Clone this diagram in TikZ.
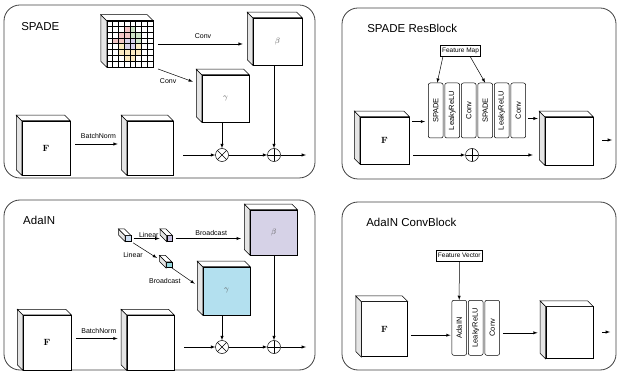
\documentclass[tikz,border=0pt]{standalone}
\usepackage{amsmath, amssymb}
\usepackage[no-math]{fontspec}
\setmainfont{Liberation Sans}
\usepackage{graphicx}
\usepackage{tikz}
\usetikzlibrary{arrows,positioning,calc}

\definecolor{cellred}{HTML}{F2C6C6}
\definecolor{cellgreen}{HTML}{CFE5C8}
\definecolor{cellpurple}{HTML}{D8D0EA}
\definecolor{cellyellow}{HTML}{FBEAC2}
\definecolor{betafill}{HTML}{D6D2E7}
\definecolor{gammafill}{HTML}{B3E0EF}
\definecolor{vecblue}{HTML}{CFDFF2}
\definecolor{vecpurple}{HTML}{C8C0E2}
\definecolor{veccyan}{HTML}{97D8DF}

% side and top faces of a cube node
\newcommand{\cubesides}[2][5.5]{%
  \draw[fill=black!10] (#2.north west) -- ++(-#1,-#1) -- ($(#2.south west)+(-#1,-#1)$) -- (#2.south west) -- cycle;
  \draw[fill=white] (#2.north west) -- ++(-#1,-#1) -- ($(#2.north east)+(-#1,-#1)$) -- (#2.north east) -- cycle;}

\begin{document}
\begin{tikzpicture}[x=1pt, y=-1pt, >=latex, line width=0.5pt,
  panel/.style={draw=black!75, line width=0.8pt, rounded corners=16pt},
  title/.style={anchor=west, inner sep=0pt, font=\fontsize{11.5}{13}\selectfont},
  cube/.style={draw, fill=white, inner sep=0pt, font=\fontsize{9}{10}\selectfont},
  param/.style={text=black!65, font=\fontsize{8}{9}\selectfont},
  lbl/.style={font=\fontsize{7}{8}\selectfont, inner sep=1pt},
  blk/.style={draw, rounded corners=2pt, minimum width=14.8pt, minimum height=55pt, inner sep=0pt, font=\fontsize{7.5}{8}\selectfont},
  tag/.style={draw, fill=white, minimum height=11pt, inner sep=1.5pt, font=\fontsize{6.5}{7}\selectfont},
  opx/.style={circle, draw, minimum size=13pt, inner sep=0pt,
    path picture={\draw (path picture bounding box.north west) -- (path picture bounding box.south east)
      (path picture bounding box.north east) -- (path picture bounding box.south west);}},
  opp/.style={circle, draw, minimum size=13pt, inner sep=0pt,
    path picture={\draw (path picture bounding box.north) -- (path picture bounding box.south)
      (path picture bounding box.west) -- (path picture bounding box.east);}}]
\useasboundingbox (0,0) rectangle (618,371);

% panels
\draw[panel] (4,5) rectangle (315,178);
\draw[panel] (342,8) rectangle (616,179);
\draw[panel] (4,200) rectangle (315,370);
\draw[panel] (342,202) rectangle (616,370);
\node[title] (t1) at (21,27) {SPADE};
\node[title] (t2) at (367,28) {SPADE ResBlock};
\node[title] (t3) at (23,220) {AdaIN};
\node[title] (t4) at (366,222) {AdaIN ConvBlock};

% SPADE
\node[cube, minimum size=46pt] (grid) at (130,44) {};
\cubesides[6]{grid}
\begin{scope}[shift={(grid.north west)}]
\foreach \r/\c/\col in {1/3/cellred, 1/4/cellgreen, 2/2/cellred, 2/3/cellred, 2/4/cellgreen, 2/5/cellgreen,
  3/1/cellred, 3/2/cellred, 3/3/cellpurple, 3/4/cellpurple, 3/5/cellgreen,
  4/2/cellyellow, 4/3/cellpurple, 4/4/cellpurple, 4/5/cellyellow,
  5/2/cellyellow, 5/3/cellyellow, 5/4/cellyellow, 5/5/cellyellow, 6/3/cellyellow, 6/4/cellyellow}
  \fill[\col] (\c*5.75,\r*5.75) rectangle ++(5.75,5.75);
\foreach \i in {1,...,7} {
  \draw (\i*5.75,0) -- (\i*5.75,46);
  \draw (0,\i*5.75) -- (46,\i*5.75);
}
\end{scope}
\draw (grid.north west) rectangle (grid.south east);
\node[cube, param, minimum width=49pt, minimum height=47pt] (beta1) at (277.5,41.5) {$\beta$};
\cubesides{beta1}
\node[cube, param, minimum size=47pt] (gamma1) at (225.5,98.5) {$\gamma$};
\cubesides{gamma1}
\node[cube, minimum width=48pt, minimum height=54pt] (f1) at (46,148) {$\mathbf{F}$};
\cubesides{f1}
\node[cube, minimum width=46pt, minimum height=54pt] (n1) at (150,148) {};
\cubesides{n1}
\node[opx] (mul1) at (222,155) {};
\node[opp] (add1) at (274,155) {};
\coordinate (out1) at (306,155);
\draw[->, shorten <=5pt, shorten >=10pt] (grid.east) -- (grid.east -| beta1.west) node[midway, above=4pt, lbl] {Conv};
\draw[->, shorten <=5pt, shorten >=3pt] (grid.south east) -- ([xshift=-6pt, yshift=-8pt]gamma1.north west) node[pos=0.35, below=5pt, lbl] {Conv};
\draw[->, shorten <=5pt, shorten >=9pt] ([yshift=4pt]f1.east) -- ([yshift=4pt]n1.west) node[midway, above=4pt, lbl] {BatchNorm};
\draw[->, shorten <=10pt] (n1.east |- mul1) -- (mul1);
\draw[->] (mul1) -- (add1);
\draw[->] (add1) -- (out1);
\draw[->] (gamma1.south -| mul1) -- (mul1);
\draw[->] (beta1.south -| add1) -- (add1);

% SPADE ResBlock
\node[tag] (fm) at (460.5,50.5) {Feature Map};
\node[blk] (sp1) at (435.7,110.5) {\rotatebox{90}{SPADE}};
\node[blk, right=1.2pt of sp1] (lr1) {\rotatebox{90}{LeakyReLU}};
\node[blk, right=1.2pt of lr1] (cv1) {\rotatebox{90}{Conv}};
\node[blk, right=1.2pt of cv1] (sp2) {\rotatebox{90}{SPADE}};
\node[blk, right=1.2pt of sp2] (lr2) {\rotatebox{90}{LeakyReLU}};
\node[blk, right=1.2pt of lr2] (cv2) {\rotatebox{90}{Conv}};
\node[cube, minimum width=49pt, minimum height=47pt] (f2) at (384.5,140.3) {$\mathbf{F}$};
\cubesides{f2}
\node[cube, minimum size=48pt] (out2) at (569,141) {};
\cubesides{out2}
\node[opp] (add2) at (472,155) {};
\coordinate (end2) at (612,140);
\coordinate (in2) at ([yshift=-5pt]f2.north east);
\coordinate (c2) at ([yshift=-8pt]cv2.east);
\draw[->] ([xshift=-17.5pt]fm.south) -- ([xshift=1.5pt]sp1.north);
\draw[->] ([xshift=9.5pt]fm.south) -- (sp2.north);
\draw[->, shorten <=3pt, shorten >=3pt] (in2) -- (in2 -| sp1.west);
\draw[->, shorten <=4pt] (f2.east |- add2) -- (add2);
\draw[->, shorten >=12pt] (add2) -- (add2 -| out2.west);
\draw[->, shorten <=2pt, shorten >=7pt] (c2) -- (c2 -| out2.west);
\draw[->, shorten <=9pt] (out2.east |- end2) -- (end2);

% AdaIN
\node[cube, fill=vecblue, minimum size=5.5pt] (v0) at (128,238.5) {};
\cubesides[6.5]{v0}
\node[cube, fill=vecpurple, minimum size=5.5pt] (v1) at (169.5,238.5) {};
\cubesides[6.5]{v1}
\node[cube, fill=veccyan, minimum size=5.5pt] (v2) at (169,265) {};
\cubesides[6.5]{v2}
\node[cube, param, fill=betafill, minimum width=47pt, minimum height=45pt] (beta2) at (273.7,232.5) {$\beta$};
\cubesides{beta2}
\node[cube, param, fill=gammafill, minimum width=47pt, minimum height=48pt] (gamma2) at (226.5,291) {$\gamma$};
\cubesides{gamma2}
\node[cube, minimum width=48pt, minimum height=55pt] (f3) at (47,342.5) {$\mathbf{F}$};
\cubesides{f3}
\node[cube, minimum width=47pt, minimum height=55pt] (n3) at (150.3,342.5) {};
\cubesides{n3}
\node[opx] (mul3) at (222,347) {};
\node[opp] (add3) at (274,347) {};
\coordinate (out3) at (306,347);
\draw[->, shorten <=2.5pt, shorten >=7pt] (v0.east) -- (v1.west) node[midway, above=0pt, lbl] {Linear};
\draw[->, shorten <=2.5pt] (v0.south east) -- ([xshift=-9pt, yshift=4pt]v2.north west) node[midway, below left=1pt and 0pt, lbl] {Linear};
\draw[->, shorten <=3pt, shorten >=9pt] (v1.east) -- (v1.east -| beta2.west) node[midway, above=2pt, lbl] {Broadcast};
\draw[->] (v2.south east) -- ([xshift=-8pt, yshift=-17pt]gamma2.north west) node[midway, below left=1pt and 1.5pt, lbl] {Broadcast};
\draw[->, shorten <=5pt, shorten >=9pt] ([yshift=4pt]f3.east) -- ([yshift=4pt]n3.west) node[midway, above=4pt, lbl] {BatchNorm};
\draw[->, shorten <=10pt] (n3.east |- mul3) -- (mul3);
\draw[->] (mul3) -- (add3);
\draw[->] (add3) -- (out3);
\draw[->] (gamma2.south -| mul3) -- (mul3);
\draw[->] (beta2.south -| add3) -- (add3);

% AdaIN ConvBlock
\node[tag] (fv) at (459.3,255.5) {Feature Vector};
\node[blk] (ad4) at (459.2,327.8) {\rotatebox{90}{AdaIN}};
\node[blk, right=1.2pt of ad4] (lr4) {\rotatebox{90}{LeakyReLU}};
\node[blk, right=1.2pt of lr4] (cv4) {\rotatebox{90}{Conv}};
\node[cube, minimum width=46pt, minimum height=55pt] (f4) at (384.5,329.2) {$\mathbf{F}$};
\cubesides{f4}
\node[cube, minimum width=47pt, minimum height=52pt] (out4) at (569.3,332.5) {};
\cubesides{out4}
\coordinate (end4) at (610,332);
\coordinate (in4) at ([yshift=-6pt]f4.east);
\coordinate (c4) at ([yshift=-5pt]cv4.east);
\draw[->] (fv.south) -- (ad4.north);
\draw[->, shorten <=3pt, shorten >=1pt] (in4) -- (in4 -| ad4.west);
\draw[->, shorten <=3pt, shorten >=8pt] (c4) -- (c4 -| out4.west);
\draw[->, shorten <=9pt] (out4.east |- end4) -- (end4);
\end{tikzpicture}
\end{document}
